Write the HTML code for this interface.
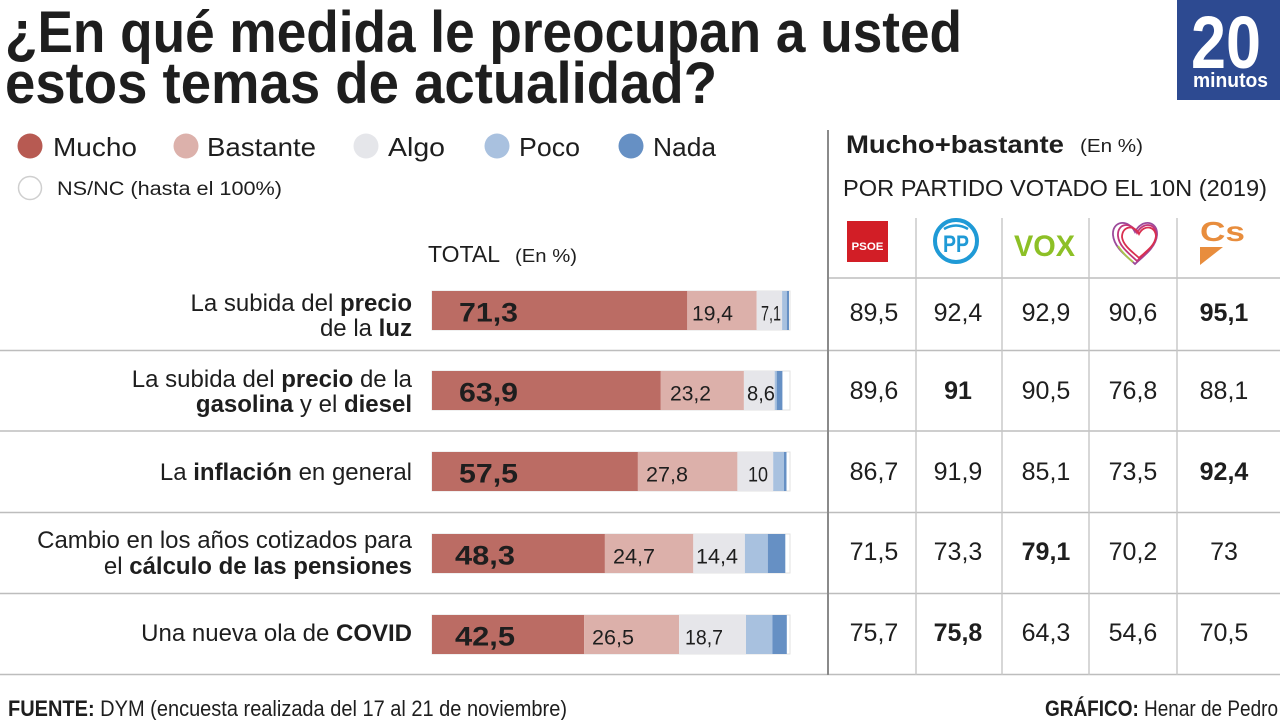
<!DOCTYPE html>
<html>
<head>
<meta charset="utf-8">
<style>
html,body{margin:0;padding:0;background:#fff;}
svg{display:block;}
text{font-family:"Liberation Sans",sans-serif;fill:#1e1e1e;}
.b{font-weight:bold;}
</style>
</head>
<body>
<svg width="1280" height="720" viewBox="0 0 1280 720" xmlns="http://www.w3.org/2000/svg">
<rect width="1280" height="720" fill="#fff"/>

<!-- Title -->
<text x="5" y="52" font-size="58" class="b" fill="#111" textLength="957" lengthAdjust="spacingAndGlyphs">¿En qué medida le preocupan a usted</text>
<text x="5" y="103" font-size="58" class="b" fill="#111" textLength="712" lengthAdjust="spacingAndGlyphs">estos temas de actualidad?</text>

<!-- Logo 20minutos -->
<rect x="1177" y="0" width="103" height="100" fill="#2d4a91"/>
<text x="1191" y="68" font-size="74" class="b" style="fill:#fff" textLength="70" lengthAdjust="spacingAndGlyphs">20</text>
<text x="1193" y="87" font-size="20" class="b" style="fill:#fff" textLength="75" lengthAdjust="spacingAndGlyphs">minutos</text>

<!-- Legend -->
<circle cx="30" cy="146" r="12.5" fill="#b75a52"/>
<text x="53" y="156" font-size="26" textLength="84" lengthAdjust="spacingAndGlyphs">Mucho</text>
<circle cx="186" cy="146" r="12.5" fill="#dcb1ab"/>
<text x="207" y="156" font-size="26" textLength="109" lengthAdjust="spacingAndGlyphs">Bastante</text>
<circle cx="366" cy="146" r="12.5" fill="#e5e6ea"/>
<text x="388" y="156" font-size="26" textLength="57" lengthAdjust="spacingAndGlyphs">Algo</text>
<circle cx="497" cy="146" r="12.5" fill="#a9c1df"/>
<text x="519" y="156" font-size="26" textLength="61" lengthAdjust="spacingAndGlyphs">Poco</text>
<circle cx="631" cy="146" r="12.5" fill="#6690c4"/>
<text x="653" y="156" font-size="26" textLength="63" lengthAdjust="spacingAndGlyphs">Nada</text>
<circle cx="30" cy="188" r="11.5" fill="#fff" stroke="#cfcfcf" stroke-width="1.5"/>
<text x="57" y="195" font-size="19" textLength="225" lengthAdjust="spacingAndGlyphs">NS/NC (hasta el 100%)</text>

<!-- TOTAL header -->
<text x="428" y="262" font-size="23" textLength="72" lengthAdjust="spacingAndGlyphs">TOTAL</text>
<text x="515" y="262" font-size="18" textLength="62" lengthAdjust="spacingAndGlyphs">(En %)</text>

<!-- Right header -->
<text x="846" y="153" font-size="25" class="b" textLength="218" lengthAdjust="spacingAndGlyphs">Mucho+bastante</text>
<text x="1080" y="152" font-size="18" textLength="63" lengthAdjust="spacingAndGlyphs">(En %)</text>
<text x="843" y="196" font-size="23" textLength="424" lengthAdjust="spacingAndGlyphs">POR PARTIDO VOTADO EL 10N (2019)</text>

<!-- Grid lines -->
<g stroke="#bdbdbd" stroke-width="1.6">
  <line x1="0" y1="350.5" x2="1280" y2="350.5"/>
  <line x1="0" y1="431" x2="1280" y2="431"/>
  <line x1="0" y1="512.5" x2="1280" y2="512.5"/>
  <line x1="0" y1="593.5" x2="1280" y2="593.5"/>
  <line x1="0" y1="674.5" x2="1280" y2="674.5"/>
  <line x1="828" y1="278" x2="1280" y2="278"/>
</g>
<g stroke="#c6c6c6" stroke-width="1.4">
  <line x1="916" y1="218" x2="916" y2="675"/>
  <line x1="1002" y1="218" x2="1002" y2="675"/>
  <line x1="1089" y1="218" x2="1089" y2="675"/>
  <line x1="1177" y1="218" x2="1177" y2="675"/>
</g>
<line x1="828" y1="130" x2="828" y2="675" stroke="#8a8a8a" stroke-width="2"/>

<!-- Party logos -->
<rect x="847" y="221" width="41" height="41" fill="#d21e26"/>
<text x="867.5" y="250" font-size="11" class="b" style="fill:#fff" text-anchor="middle" textLength="32" lengthAdjust="spacingAndGlyphs">PSOE</text>

<circle cx="956" cy="241" r="21" fill="none" stroke="#1f9ad6" stroke-width="4"/>
<path d="M944 229 Q956 222 968 229" fill="none" stroke="#1f9ad6" stroke-width="2.5"/>
<text x="956" y="252" font-size="24" class="b" style="fill:#1f9ad6" text-anchor="middle" textLength="26" lengthAdjust="spacingAndGlyphs">PP</text>

<text x="1014" y="256" font-size="30" class="b" style="fill:#8dc026" textLength="61" lengthAdjust="spacingAndGlyphs">VOX</text>

<g fill="none" stroke-width="1.8">
  <path d="M1135 232 C1128 218 1112 221 1113 235 C1114 248 1128 257 1135 264 C1142 257 1156 248 1157 235 C1158 221 1142 218 1135 232 Z" stroke="#9c4a9b"/>
  <path d="M1137 233 C1131 221 1117 223 1118 236 C1119 247 1131 255 1137 261 C1143 255 1155 247 1156 236 C1157 223 1143 221 1137 233 Z" stroke="#c2357a"/>
  <path d="M1139 234 C1134 224 1122 226 1122 237 C1123 246 1134 253 1139 258 C1144 253 1155 246 1156 237 C1156 226 1144 224 1139 234 Z" stroke="#d9304f"/>
  <path d="M1118 246 C1122 252 1128 258 1133 262" stroke="#a8c84a"/>
</g>

<text x="1200" y="241" font-size="28" class="b" style="fill:#e88d3d" textLength="45" lengthAdjust="spacingAndGlyphs">Cs</text>
<polygon points="1200,247 1223,247 1200,265" fill="#e88d3d"/>

<!-- Row labels -->
<g font-size="24" text-anchor="end">
  <text x="412" y="311">La subida del <tspan class="b">precio</tspan></text>
  <text x="412" y="336">de la <tspan class="b">luz</tspan></text>
  <text x="412" y="387">La subida del <tspan class="b">precio</tspan> de la</text>
  <text x="412" y="412"><tspan class="b">gasolina</tspan> y el <tspan class="b">diesel</tspan></text>
  <text x="412" y="480">La <tspan class="b">inflación</tspan> en general</text>
  <text x="412" y="548">Cambio en los años cotizados para</text>
  <text x="412" y="574">el <tspan class="b">cálculo de las pensiones</tspan></text>
  <text x="412" y="641">Una nueva ola de <tspan class="b">COVID</tspan></text>
</g>

<!-- Bars: x0=432, 3.58 px per % -->
<g>
  <!-- Row 1 -->
  <rect x="432" y="291" width="358" height="39" fill="#fff" stroke="#e2e2e2" stroke-width="1"/>
  <rect x="432" y="291" width="255.3" height="39" fill="#bb6c64"/>
  <rect x="687.3" y="291" width="69.4" height="39" fill="#dcb0aa"/>
  <rect x="756.7" y="291" width="25.4" height="39" fill="#e6e6ea"/>
  <rect x="782.1" y="291" width="4.7" height="39" fill="#a8c1df"/>
  <rect x="786.8" y="291" width="2.2" height="39" fill="#6690c4"/>

  <!-- Row 2 -->
  <rect x="432" y="371" width="358" height="39" fill="#fff" stroke="#e2e2e2" stroke-width="1"/>
  <rect x="432" y="371" width="228.8" height="39" fill="#bb6c64"/>
  <rect x="660.8" y="371" width="83.1" height="39" fill="#dcb0aa"/>
  <rect x="743.9" y="371" width="30.8" height="39" fill="#e6e6ea"/>
  <rect x="774.7" y="371" width="2" height="39" fill="#a8c1df"/>
  <rect x="776.7" y="371" width="5.7" height="39" fill="#6690c4"/>

  <!-- Row 3 -->
  <rect x="432" y="452" width="358" height="39" fill="#fff" stroke="#e2e2e2" stroke-width="1"/>
  <rect x="432" y="452" width="205.9" height="39" fill="#bb6c64"/>
  <rect x="637.9" y="452" width="99.5" height="39" fill="#dcb0aa"/>
  <rect x="737.4" y="452" width="35.8" height="39" fill="#e6e6ea"/>
  <rect x="773.2" y="452" width="10.7" height="39" fill="#a8c1df"/>
  <rect x="783.9" y="452" width="2.6" height="39" fill="#6690c4"/>

  <!-- Row 4 -->
  <rect x="432" y="534" width="358" height="39" fill="#fff" stroke="#e2e2e2" stroke-width="1"/>
  <rect x="432" y="534" width="172.9" height="39" fill="#bb6c64"/>
  <rect x="604.9" y="534" width="88.4" height="39" fill="#dcb0aa"/>
  <rect x="693.3" y="534" width="51.6" height="39" fill="#e6e6ea"/>
  <rect x="744.9" y="534" width="22.9" height="39" fill="#a8c1df"/>
  <rect x="767.8" y="534" width="17.5" height="39" fill="#6690c4"/>

  <!-- Row 5 -->
  <rect x="432" y="615" width="358" height="39" fill="#fff" stroke="#e2e2e2" stroke-width="1"/>
  <rect x="432" y="615" width="152.2" height="39" fill="#bb6c64"/>
  <rect x="584.2" y="615" width="94.9" height="39" fill="#dcb0aa"/>
  <rect x="679.1" y="615" width="66.9" height="39" fill="#e6e6ea"/>
  <rect x="746" y="615" width="26.5" height="39" fill="#a8c1df"/>
  <rect x="772.5" y="615" width="14.3" height="39" fill="#6690c4"/>
</g>

<!-- Bar labels -->
<g class="b" font-size="27">
  <text x="459" y="321.5" class="b" textLength="59" lengthAdjust="spacingAndGlyphs">71,3</text>
  <text x="459" y="401.5" class="b" textLength="59" lengthAdjust="spacingAndGlyphs">63,9</text>
  <text x="459" y="482.5" class="b" textLength="59" lengthAdjust="spacingAndGlyphs">57,5</text>
  <text x="455" y="564.5" class="b" textLength="60" lengthAdjust="spacingAndGlyphs">48,3</text>
  <text x="455" y="645.5" class="b" textLength="60" lengthAdjust="spacingAndGlyphs">42,5</text>
</g>
<g font-size="21">
  <text x="692" y="320.5" textLength="41" lengthAdjust="spacingAndGlyphs">19,4</text>
  <text x="761" y="320.5" textLength="20" lengthAdjust="spacingAndGlyphs">7,1</text>
  <text x="670" y="400.5" textLength="41" lengthAdjust="spacingAndGlyphs">23,2</text>
  <text x="747" y="400.5" textLength="28" lengthAdjust="spacingAndGlyphs">8,6</text>
  <text x="646" y="481.5" textLength="42" lengthAdjust="spacingAndGlyphs">27,8</text>
  <text x="748" y="481.5" textLength="20" lengthAdjust="spacingAndGlyphs">10</text>
  <text x="613" y="563.5" textLength="42" lengthAdjust="spacingAndGlyphs">24,7</text>
  <text x="696" y="563.5" textLength="42" lengthAdjust="spacingAndGlyphs">14,4</text>
  <text x="592" y="644.5" textLength="42" lengthAdjust="spacingAndGlyphs">26,5</text>
  <text x="685" y="644.5" textLength="38" lengthAdjust="spacingAndGlyphs">18,7</text>
</g>

<!-- Table values -->
<g font-size="25" text-anchor="middle">
  <text x="874" y="321">89,5</text>
  <text x="958" y="321">92,4</text>
  <text x="1046" y="321">92,9</text>
  <text x="1133" y="321">90,6</text>
  <text x="1224" y="321" class="b">95,1</text>

  <text x="874" y="399">89,6</text>
  <text x="958" y="399" class="b">91</text>
  <text x="1046" y="399">90,5</text>
  <text x="1133" y="399">76,8</text>
  <text x="1224" y="399">88,1</text>

  <text x="874" y="480">86,7</text>
  <text x="958" y="480">91,9</text>
  <text x="1046" y="480">85,1</text>
  <text x="1133" y="480">73,5</text>
  <text x="1224" y="480" class="b">92,4</text>

  <text x="874" y="560">71,5</text>
  <text x="958" y="560">73,3</text>
  <text x="1046" y="560" class="b">79,1</text>
  <text x="1133" y="560">70,2</text>
  <text x="1224" y="560">73</text>

  <text x="874" y="641">75,7</text>
  <text x="958" y="641" class="b">75,8</text>
  <text x="1046" y="641">64,3</text>
  <text x="1133" y="641">54,6</text>
  <text x="1224" y="641">70,5</text>
</g>

<!-- Footer -->
<text x="8" y="716" font-size="22" textLength="559" lengthAdjust="spacingAndGlyphs"><tspan class="b">FUENTE:</tspan> DYM (encuesta realizada del 17 al 21 de noviembre)</text>
<text x="1045" y="716" font-size="22" textLength="233" lengthAdjust="spacingAndGlyphs"><tspan class="b">GRÁFICO:</tspan> Henar de Pedro</text>
</svg>
</body>
</html>
